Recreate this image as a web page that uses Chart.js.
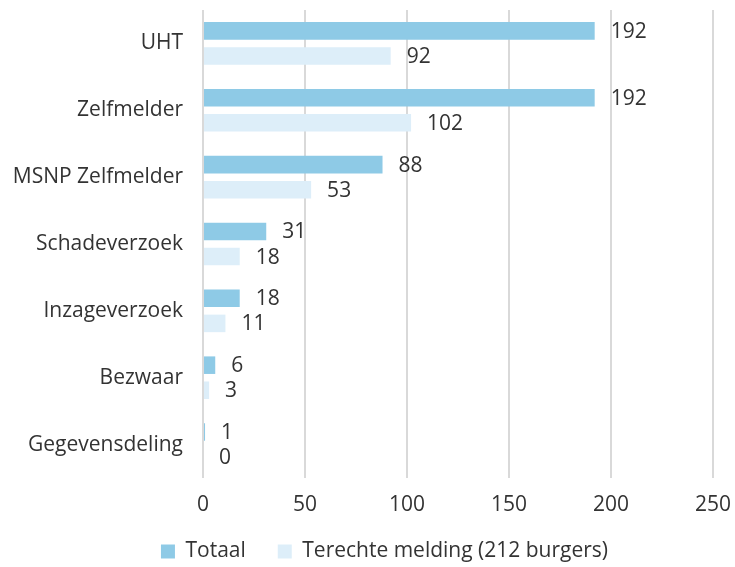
<!DOCTYPE html>
<html>
<head>
<meta charset="utf-8">
<script src="https://cdn.jsdelivr.net/npm/chart.js@4"></script>
<style>
  html, body { margin: 0; padding: 0; background: #fff; }
  #wrap { width: 735px; height: 567px; }
</style>
</head>
<body>
<div id="wrap"><canvas id="chart"></canvas></div>
<script>
const categories = ["UHT", "Zelfmelder", "MSNP Zelfmelder", "Schadeverzoek", "Inzageverzoek", "Bezwaar", "Gegevensdeling"];
const totaal = [192, 192, 88, 31, 18, 6, 1];
const terecht = [92, 102, 53, 18, 11, 3, 0];
const xTicks = [0, 50, 100, 150, 200, 250];

const FONT = "'Open Sans', 'Noto Sans', sans-serif";
const TEXT = "#333333";
const LEGEND_PAD = 32;

const valueLabels = {
  id: "valueLabels",
  afterDatasetsDraw(chart) {
    const ctx = chart.ctx;
    ctx.save();
    ctx.font = "21px " + FONT;
    ctx.fillStyle = TEXT;
    ctx.textBaseline = "middle";
    ctx.textAlign = "left";
    chart.data.datasets.forEach((ds, i) => {
      chart.getDatasetMeta(i).data.forEach((bar, j) => {
        ctx.fillText(String(ds.data[j]), bar.x + 16, bar.y + 1);
      });
    });
    ctx.restore();
  }
};

// wide spacing between legend items, but a short legend box placed a bit right of centre
const legendFit = {
  id: "legendFit",
  beforeLayout(chart) {
    const lg = chart.legend;
    if (lg && !lg._patched) {
      const orig = lg.fit;
      lg.fit = function () { orig.call(this); this.height = 45; };
      lg._patched = true;
    }
  },
  afterLayout(chart) {
    const lg = chart.legend;
    lg.top = 509;
    lg.left = 34;
  }
};

new Chart(document.getElementById("chart"), {
  type: "bar",
  data: {
    labels: categories,
    datasets: [
      { label: "Totaal", data: totaal, backgroundColor: "#8ecae6", categoryPercentage: 0.75, barPercentage: 0.7 },
      { label: "Terechte melding (212 burgers)", data: terecht, backgroundColor: "#ddeef9", categoryPercentage: 0.75, barPercentage: 0.7 }
    ]
  },
  options: {
    indexAxis: "y",
    responsive: true,
    maintainAspectRatio: false,
    animation: false,
    layout: { padding: { top: 10, right: 0, left: 0, bottom: 0 } },
    plugins: {
      tooltip: { enabled: false },
      legend: {
        position: "bottom",
        labels: {
          font: { family: FONT, size: 21 },
          color: TEXT,
          boxWidth: 14,
          boxHeight: 14,
          padding: LEGEND_PAD
        }
      }
    },
    scales: {
      x: {
        min: 0,
        max: 250,
        afterBuildTicks(axis) { axis.ticks = xTicks.map(v => ({ value: v })); },
        afterFit(axis) { axis.height = 44; axis.paddingRight = 22; axis.paddingLeft = 0; },
        grid: { color: "#d9d9d9", lineWidth: 2, drawTicks: false },
        border: { display: false },
        ticks: { font: { family: FONT, size: 21 }, color: TEXT, padding: 14 }
      },
      y: {
        afterFit(axis) { axis.width = 203; axis.paddingTop = 0; axis.paddingBottom = 0; },
        grid: { display: false, drawTicks: false },
        border: { display: false },
        ticks: { font: { family: FONT, size: 21 }, color: TEXT, padding: 20 }
      }
    }
  },
  plugins: [valueLabels, legendFit]
});
</script>
</body>
</html>
